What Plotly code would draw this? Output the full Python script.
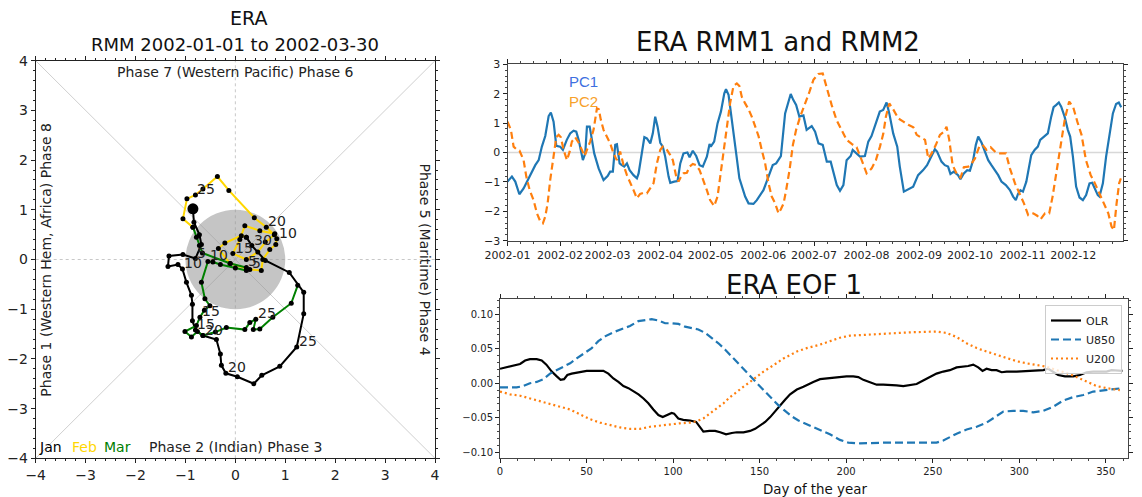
import calendar
import plotly.graph_objects as go

W, H = 1142, 497
FONT = "DejaVu Sans"

# ---------------- Phase diagram data (RMM1, RMM2), one point per day ----------------
jan_rmm1 = [-0.85, -0.83, -0.72, -0.68, -0.80, -1.05, -1.33, -1.35, -1.15, -1.06, -0.98,
            -0.88, -0.86, -0.86, -0.80, -0.65, -0.38, -0.30, -0.28, -0.19, 0.04, 0.37,
            0.53, 0.89, 1.23, 1.37, 1.37, 1.08, 0.60, 0.33, 0.22]
jan_rmm2 = [1.02, 0.75, 0.50, 0.30, 0.02, 0.10, 0.07, -0.14, -0.10, -0.19, -0.46,
            -0.72, -0.90, -1.23, -1.42, -1.53, -1.61, -1.90, -2.13, -2.29, -2.36, -2.50,
            -2.33, -2.15, -1.76, -1.09, -0.66, -0.26, -0.02, 0.28, 0.45]
feb_rmm1 = [0.12, -0.21, -0.34, -0.11, 0.29, 0.52, 0.55, 0.69, 0.81, 0.83, 0.79, 0.49,
            0.19, 0.09, -0.05, 0.22, 0.45, 0.60, 0.78, 0.62, 0.38, -0.13, -0.36, -0.65,
            -0.80, -0.97, -1.05, -0.85]
feb_rmm2 = [0.48, 0.33, 0.22, -0.08, -0.20, -0.22, 0.00, 0.20, 0.30, 0.42, 0.52, 0.58,
            0.68, 0.40, 0.12, 0.00, 0.15, 0.35, 0.50, 0.65, 0.84, 1.39, 1.67, 1.42,
            1.30, 1.22, 0.82, 0.65]
mar_rmm1 = [-0.78, -0.72, -0.66, -0.10, 0.22, 0.22, 0.00, -0.30, -0.45, -0.55, -0.68,
            -0.61, -0.51, -0.62, -0.71, -0.78, -1.01, -0.88, -0.76, -0.65, -0.40, -0.18,
            0.19, 0.29, 0.41, 0.36, 0.49, 0.75, 1.12, 1.25]
mar_rmm2 = [0.45, 0.28, 0.13, -0.08, -0.16, -0.22, -0.17, -0.10, -0.05, -0.04, -0.46,
            -0.79, -0.93, -1.02, -1.16, -1.33, -1.45, -1.56, -1.45, -1.53, -1.46, -1.37,
            -1.41, -1.27, -1.20, -1.41, -1.40, -1.16, -0.88, -0.52]
month_names = ["Jan", "Feb", "Mar"]
month_colors = ["black", "#FFD700", "#008000"]
label_days = [5, 10, 15, 20, 25, 30]

# ---------------- RMM time series (day of 2002, value) ----------------
pc1_day = [0, 2.6, 4.6, 7, 9.5, 12.5, 14.4, 16.4, 18.4, 20.3, 22.3, 24.3, 25.6, 27.2, 28.8,
           31.1, 32.7, 35, 37, 39, 40.6, 42, 44.5, 45.9, 46.9, 48.5, 49.2, 51.2, 53.8, 56.7,
           59.1, 60.6, 62.2, 63.6, 64.6, 66.2, 67.5, 68.9, 70.5, 72.1, 74.4, 76.4, 77.4, 78.8,
           80.8, 82.3, 84.3, 85.8, 87.2, 88.6, 90.2, 91.7, 93.1, 95.1, 96.1, 98.4, 100.4, 102,
           103.9, 106.2, 107.5, 109.4, 111.4, 113.4, 115.3, 117.7, 119.3, 120, 122, 124, 126,
           128, 129, 130.5, 131.8, 133.4, 135, 136.9, 138.3, 140.3, 142.3, 145.2, 147.2,
           149.5, 151.1, 153.1, 154.7, 156.6, 158.6, 160, 161.4, 163.9, 165.9, 167.2, 168.7,
           170.4, 172.3, 174.7, 176.6, 179.6, 181.6, 183.6, 186.1, 188.5, 190.8, 192.4,
           194.4, 196.3, 198.3, 200.2, 202.6, 203.8, 206.1, 208.1, 211, 213, 214.9, 217.9,
           219.8, 221.8, 223.8, 225.4, 227.7, 230.1, 231.6, 234, 236.5, 239.5, 242.4, 245.4,
           247.7, 250.3, 252.3, 253.6, 256.2, 258.2, 260.1, 261.5, 263.5, 266, 267.4, 269.4,
           271.4, 273, 274.9, 276.5, 277.9, 279.9, 281.8, 283.8, 285.7, 287.7, 289.7, 291.6,
           294.2, 296.6, 298.5, 300.1, 301.4, 302.8, 304.3, 306.3, 309.2, 311.2, 313.1,
           314.5, 316.1, 317.7, 319, 321, 322.4, 324, 325.5, 326.9, 328.9, 330.8, 332.2,
           333.8, 335.7, 337.7, 339.7, 341.6, 343.6, 345.2, 346.6, 348.5, 349.5, 351.5,
           353.4, 355.4, 357.4, 359.3, 360.9, 362.3]
pc1_val = [-0.99, -0.82, -0.99, -1.42, -1.22, -0.88, -0.69, -0.43, -0.26, 0.2, 0.56, 1.24,
           1.36, 1.05, 0.23, 0.2, 0.09, 0.43, 0.65, 0.74, 0.71, 0.43, -0.26, -0.03, 0.88,
           0.88, 0.65, -0.03, -0.54, -0.94, -0.8, -0.65, -0.65, 0.26, 0.28, -0.37, -0.43,
           -0.48, -0.37, -0.6, -0.77, -0.88, -0.71, -0.14, 0.52, 0.48, 0.31, 0.65, 1.22,
           0.88, 0.33, 0.2, -0.14, -0.82, -1.03, -0.99, -0.97, -0.37, -0.03, 0.0, -0.16,
           0.06, -0.12, -0.43, -0.48, -0.14, 0.29, 0.2, 0.37, 0.99, 1.39, 2.01, 2.15, 1.96,
           1.33, 0.71, -0.03, -0.88, -1.16, -1.5, -1.73, -1.75, -1.62, -1.39, -1.28, -0.97,
           -0.69, -0.43, -0.37, -0.23, -0.12, 1.33, 1.79, 1.99, 1.79, 1.62, 1.22, 1.26, 0.77,
           0.9, 0.71, 0.31, 0.26, -0.31, -0.31, -0.71, -1.11, -1.3, -1.11, -0.26, -0.12,
           0.09, -0.05, -0.14, -0.12, 0.37, 0.56, 1.11, 1.39, 1.45, 1.7, 1.33, 0.65, 0.2,
           -0.48, -1.33, -1.25, -1.16, -0.77, -0.6, -0.43, -0.14, 0.11, 0.03, -0.31, -0.43,
           -0.48, -0.73, -0.65, -0.77, -0.91, -0.71, -0.6, -0.62, -0.26, 0.26, 0.54, 0.33,
           0.03, -0.26, -0.43, -0.6, -0.77, -0.99, -1.11, -1.28, -1.5, -1.62, -1.41, -1.28,
           -1.33, -0.99, -0.09, 0.09, 0.2, 0.43, 0.52, 0.6, 0.65, 1.22, 1.54, 1.62, 1.7,
           1.56, 1.22, 0.77, 0.54, -0.14, -1.16, -1.53, -1.62, -1.45, -1.05, -1.03, -1.19,
           -1.45, -1.5, -1.05, -0.14, 0.65, 1.33, 1.65, 1.7, 1.54]
pc2_day = [0, 2, 3.6, 5.6, 7.1, 9.5, 11.1, 13.1, 15.4, 17.4, 19.4, 20.9, 22.3, 23.7, 25.2,
           27.2, 28.8, 30.2, 31.5, 33.1, 35.1, 36.7, 38, 40, 42, 43.9, 45.5, 46.9, 48.8,
           50.8, 52.8, 53.9, 55.1, 56.7, 58.7, 60.6, 62.6, 64.5, 66.5, 68.5, 70.5, 72.4,
           74.4, 76.4, 78.3, 80.3, 82.3, 84.2, 86.2, 88.2, 90.2, 91.7, 94.1, 96.1, 97.6,
           99.6, 101, 102.4, 103.9, 105.9, 107.5, 109.4, 111.4, 113.4, 115.3, 117.7, 119.6,
           122, 124, 125.5, 127.5, 129.5, 131.4, 133.4, 135.4, 136.9, 138.3, 140.3, 142.3,
           144.2, 146.2, 148.2, 150.1, 152.1, 154.1, 156, 158, 160, 161.4, 163, 164.5, 166.5,
           168.5, 170.4, 172.8, 174.7, 176.7, 178.3, 180.6, 183.5, 186.1, 188.4, 191.4,
           194.3, 197.3, 200.2, 203.2, 206.1, 209.1, 212, 215, 217.5, 219.9, 221.9, 223.4,
           225.4, 227.7, 230.7, 233.7, 236.6, 239.6, 241.6, 243.9, 246.5, 248.4, 250.4,
           252.9, 255.3, 257.7, 259.2, 260.8, 262.8, 265.1, 267.5, 269.4, 272, 274, 276,
           278.5, 280.5, 282.8, 285.2, 288.3, 290.7, 294.3, 296.6, 299.6, 302.5, 304.9,
           307.4, 310.4, 312.7, 314.7, 317.3, 319.8, 321.8, 324.2, 326.5, 329.1, 331.6,
           334, 336.4, 338.9, 341.5, 344.3, 346.8, 349.4, 352.1, 354.7, 356.6, 358, 359.6,
           361.1, 362.1]
pc2_val = [1.05, 0.77, 0.2, 0.09, 0.06, -0.26, -0.82, -1.28, -1.62, -2.07, -2.35, -2.41,
           -2.18, -1.73, -0.94, -0.14, 0.52, 0.6, 0.52, 0.09, -0.26, 0.03, 0.37, 0.52, 0.33,
           0.09, -0.12, 0.09, 0.37, 0.77, 1.5, 1.47, 1.11, 0.77, 0.52, 0.31, -0.03, -0.26,
           0.03, -0.43, -0.77, -1.05, -1.28, -1.56, -1.41, -1.37, -1.39, -1.22, -1.05, -0.37,
           0.09, 0.2, 0.09, -0.09, -0.26, -0.82, -0.99, -0.82, -0.71, -0.69, -0.48, -0.39,
           -0.43, -0.6, -0.88, -1.28, -1.62, -1.82, -1.5, -0.88, 0.09, 0.88, 1.67, 2.26,
           2.35, 2.26, 1.9, 1.67, 1.47, 1.22, 0.9, 0.56, 0.09, -0.37, -1.05, -1.5, -1.73,
           -2.07, -1.93, -1.73, -1.28, -0.6, 0.26, 0.77, 1.22, 1.5, 1.79, 2.07, 2.47, 2.67,
           2.69, 2.18, 1.61, 1.1, 0.77, 0.43, 0.29, 0.18, -0.26, -0.71, -0.54, -0.26, 0.2,
           0.65, 1.22, 1.67, 1.47, 1.16, 1.05, 0.94, 0.86, 0.6, 0.52, 0.43, -0.2, -0.03,
           0.26, 0.6, 0.71, 0.88, 0.43, -0.43, -0.71, -0.85, -0.5, -0.48, -0.37, -0.2, 0.2,
           0.26, 0.09, 0.18, 0.0, -0.03, -0.03, -0.54, -1.05, -1.39, -1.73, -2.13, -2.07,
           -2.15, -2.27, -2.07, -2.07, -1.5, -0.6, 0.31, 1.16, 1.73, 1.54, 1.05, 0.6, -0.26,
           -0.77, -1.05, -1.39, -1.73, -2.07, -2.52, -2.64, -1.73, -1.05, -0.88]
month_tick_labels = ["2002-%02d" % m for m in range(1, 13)]

# ---------------- EOF 1 structure (day of year, value) ----------------
olr_day = [0, 3.9, 7.7, 11.6, 14.5, 17.3, 21.2, 24.1, 26.8, 29.9, 32.8, 35, 37, 38.9, 41.4,
           44.3, 47.2, 50.1, 53.9, 57.8, 59.7, 62.6, 65.5, 68.4, 71.3, 74.2, 77.1, 80, 82.9,
           85.7, 88.6, 91.5, 94, 96.3, 99.2, 100.6, 103, 105.9, 109.8, 113.3, 115.6, 117.5,
           121, 124.3, 127.2, 130.6, 133.9, 136.8, 140.7, 144.5, 147.4, 150.3, 153.2, 156.1,
           159, 161.8, 164.7, 167.6, 171.5, 175.3, 179.2, 181, 184.9, 188.7, 192.5, 196.4,
           200.2, 204.1, 207, 209.9, 213.7, 217.6, 221.4, 225.3, 229.1, 233, 236.8, 240.7,
           244.5, 248.4, 252.2, 256.1, 259.9, 263.8, 267.6, 270.5, 273.4, 276.3, 278.8,
           281.1, 284, 286.9, 289.8, 292.7, 298.5, 304.2, 310, 313.9, 316.7, 319.6, 322.5,
           326.4, 331.2, 335, 338.9, 342.7, 346.6, 350.4, 353.3, 356.2, 359.6]
olr_val = [0.021, 0.023, 0.026, 0.028, 0.033, 0.035, 0.035, 0.033, 0.027, 0.017, 0.010,
           0.005, 0.006, 0.012, 0.014, 0.015, 0.016, 0.018, 0.018, 0.018, 0.018, 0.014,
           0.007, 0.002, -0.004, -0.007, -0.011, -0.016, -0.022, -0.029, -0.038, -0.046,
           -0.049, -0.046, -0.043, -0.044, -0.051, -0.053, -0.054, -0.056, -0.063, -0.070,
           -0.069, -0.069, -0.071, -0.074, -0.072, -0.071, -0.071, -0.069, -0.066, -0.061,
           -0.056, -0.049, -0.040, -0.032, -0.024, -0.016, -0.009, -0.005, 0.0, 0.002,
           0.006, 0.007, 0.007, 0.009, 0.010, 0.010, 0.009, 0.005, 0.001, -0.002, -0.002,
           -0.002, -0.003, -0.004, -0.003, -0.001, 0.004, 0.009, 0.014, 0.017, 0.019, 0.023,
           0.024, 0.025, 0.027, 0.023, 0.018, 0.021, 0.019, 0.019, 0.016, 0.017, 0.017,
           0.018, 0.018, 0.019, 0.021, 0.017, 0.012, 0.010, 0.010, 0.012, 0.016, 0.017,
           0.017, 0.017, 0.019, 0.019, 0.018]
u850_day = [0, 3.9, 9.6, 13.5, 17.3, 21.2, 25, 28.9, 32.7, 36.6, 40.5, 44.3, 49.1, 53, 56.8,
            60.7, 65.5, 70.3, 75.1, 79.9, 83.8, 87.6, 91.5, 95.4, 99.2, 103.1, 106.9, 110.8,
            114.6, 118.5, 122.3, 126.2, 130, 133.9, 137.7, 141.6, 145.4, 149.3, 153.1, 157,
            160.9, 164.7, 168.6, 172.4, 177.2, 179.1, 184.9, 190.6, 196.4, 201.2, 207.9,
            215.6, 223.3, 231, 238.7, 246.4, 252.2, 256.1, 259.9, 263.8, 269.6, 275.4, 281.1,
            285.9, 290.8, 296.5, 302.3, 308.1, 313.9, 319.6, 325.4, 331.2, 337, 342.7, 348.5,
            354.3, 359.6]
u850_val = [-0.006, -0.006, -0.006, -0.004, 0.0, 0.002, 0.006, 0.014, 0.019, 0.023, 0.029,
            0.036, 0.044, 0.051, 0.061, 0.068, 0.074, 0.079, 0.083, 0.090, 0.092, 0.093,
            0.091, 0.087, 0.087, 0.086, 0.082, 0.080, 0.078, 0.073, 0.066, 0.058, 0.049,
            0.039, 0.029, 0.019, 0.009, -0.002, -0.012, -0.022, -0.032, -0.040, -0.048,
            -0.054, -0.059, -0.061, -0.067, -0.074, -0.082, -0.086, -0.087, -0.086, -0.086,
            -0.086, -0.086, -0.086, -0.086, -0.083, -0.078, -0.073, -0.067, -0.063, -0.057,
            -0.049, -0.041, -0.040, -0.040, -0.042, -0.040, -0.034, -0.025, -0.020, -0.017,
            -0.012, -0.010, -0.008, -0.007]
u200_day = [0, 5.8, 11.6, 17.3, 23.1, 28.9, 34.7, 40.5, 46.2, 52, 57.8, 63.6, 69.3, 75.1,
            80.9, 86.7, 92.4, 98.2, 104, 109.8, 113.7, 117.5, 121.3, 125.2, 129.1, 132.9,
            136.8, 140.7, 144.5, 148.4, 152.2, 156.1, 160, 163.8, 167.7, 171.5, 177.2, 184.9,
            190.6, 196.4, 202.2, 207.9, 215.6, 223.3, 231, 238.7, 246.4, 252.2, 258, 263.8,
            269.6, 275.4, 281.1, 286.9, 292.7, 298.5, 304.2, 310, 315.8, 321.6, 327.3, 333.1,
            338.9, 344.7, 350.4, 358.1]
u200_val = [-0.012, -0.016, -0.018, -0.022, -0.026, -0.030, -0.034, -0.038, -0.045, -0.052,
            -0.057, -0.061, -0.064, -0.066, -0.066, -0.063, -0.061, -0.060, -0.058, -0.057,
            -0.055, -0.051, -0.044, -0.036, -0.029, -0.020, -0.012, -0.005, 0.002, 0.010,
            0.017, 0.023, 0.030, 0.036, 0.041, 0.046, 0.051, 0.056, 0.061, 0.066, 0.069,
            0.070, 0.071, 0.072, 0.073, 0.074, 0.075, 0.075, 0.073, 0.067, 0.058, 0.051,
            0.046, 0.041, 0.036, 0.032, 0.029, 0.027, 0.024, 0.019, 0.015, 0.009, 0.002,
            -0.004, -0.007, -0.010]
eof_names = ["OLR", "U850", "U200"]

# ---------------- helpers ----------------
def px_x(p):
    return p / W

def px_y(p):
    return 1 - p / H

fig = go.Figure()

# ---------- Phase diagram ----------
months = [(jan_rmm1, jan_rmm2), (feb_rmm1, feb_rmm2), (mar_rmm1, mar_rmm2)]
prev = None
annotations = []
for (r1, r2), col in zip(months, month_colors):
    xs = list(r1)
    ys = list(r2)
    if prev is not None:
        xs = [prev[0]] + xs
        ys = [prev[1]] + ys
    fig.add_trace(go.Scatter(x=xs, y=ys, mode="lines+markers", xaxis="x", yaxis="y",
                             line=dict(color=col, width=2),
                             marker=dict(color="black", size=5),
                             showlegend=False, hoverinfo="skip"))
    for d in label_days:
        if d < len(r1):
            annotations.append(dict(x=r1[d - 1], y=r2[d - 1], xref="x", yref="y",
                                    text=str(d), showarrow=False, xanchor="left",
                                    yanchor="bottom", yshift=-4,
                                    font=dict(family=FONT, size=14, color="#222")))
    prev = (r1[-1], r2[-1])
# start marker
fig.add_trace(go.Scatter(x=[jan_rmm1[0]], y=[jan_rmm2[0]], mode="markers", xaxis="x",
                         yaxis="y", marker=dict(color="black", size=11),
                         showlegend=False, hoverinfo="skip"))

shapes = []
gray = "rgba(150,150,150,0.55)"
shapes.append(dict(type="line", xref="x", yref="y", x0=-4, y0=-4, x1=4, y1=4,
                   line=dict(color="#cfcfcf", width=1), layer="below"))
shapes.append(dict(type="line", xref="x", yref="y", x0=-4, y0=4, x1=4, y1=-4,
                   line=dict(color="#cfcfcf", width=1), layer="below"))
shapes.append(dict(type="line", xref="x", yref="y", x0=0, y0=-4, x1=0, y1=4,
                   line=dict(color="#c8c8c8", width=1, dash="dot"), layer="below"))
shapes.append(dict(type="line", xref="x", yref="y", x0=-4, y0=0, x1=4, y1=0,
                   line=dict(color="#c8c8c8", width=1, dash="dot"), layer="below"))
shapes.append(dict(type="circle", xref="x", yref="y", x0=-1, y0=-1, x1=1, y1=1,
                   fillcolor=gray, line=dict(color="rgba(0,0,0,0)", width=0), layer="below"))

txt = dict(family=FONT, size=14, color="#222")
annotations += [
    dict(x=0, y=3.77, xref="x", yref="y", text="Phase 7 (Western Pacific) Phase 6",
         showarrow=False, font=txt),
    dict(x=0, y=-3.78, xref="x", yref="y", text="Phase 2 (Indian) Phase 3",
         showarrow=False, font=txt),
    dict(x=-3.81, y=0, xref="x", yref="y", text="Phase 1 (Western Hem, Africa) Phase 8",
         showarrow=False, textangle=-90, font=txt),
    dict(x=3.8, y=0, xref="x", yref="y", text="Phase 5 (Maritime) Phase 4",
         showarrow=False, textangle=90, font=txt),
]
for name, col, xc in zip(month_names, month_colors, [-3.7, -3.02, -2.37]):
    annotations.append(dict(x=xc, y=-3.78, xref="x", yref="y", text=name, showarrow=False,
                            font=dict(family=FONT, size=14, color=col)))
annotations += [
    dict(x=px_x(248), y=px_y(18), xref="paper", yref="paper", text="ERA", showarrow=False,
         xanchor="center", yanchor="middle", font=dict(family=FONT, size=19, color="#111")),
    dict(x=px_x(235), y=px_y(44), xref="paper", yref="paper",
         text="RMM 2002-01-01 to 2002-03-30", showarrow=False, xanchor="center",
         yanchor="middle", font=dict(family=FONT, size=18, color="#111")),
]

# ---------- RMM time series ----------
fig.add_trace(go.Scatter(x=pc1_day, y=pc1_val, mode="lines", xaxis="x2", yaxis="y2",
                         line=dict(color="#1f77b4", width=2.2), showlegend=False,
                         hoverinfo="skip"))
fig.add_trace(go.Scatter(x=pc2_day, y=pc2_val, mode="lines", xaxis="x2", yaxis="y2",
                         line=dict(color="#ff7f0e", width=2.2, dash="7px,4px"),
                         showlegend=False, hoverinfo="skip"))
shapes.append(dict(type="line", xref="x2 domain", yref="y2", x0=0, x1=1, y0=0, y1=0,
                   line=dict(color="#d8d8d8", width=1.5), layer="below"))
annotations += [
    dict(x=px_x(583), y=px_y(81), xref="paper", yref="paper", text="PC1", showarrow=False,
         xanchor="center", yanchor="middle",
         font=dict(family="Liberation Sans", size=15, color="#3d6fe0")),
    dict(x=px_x(583), y=px_y(101), xref="paper", yref="paper", text="PC2", showarrow=False,
         xanchor="center", yanchor="middle",
         font=dict(family="Liberation Sans", size=15, color="#f7a12a")),
    dict(x=px_x(778), y=px_y(42), xref="paper", yref="paper", text="ERA RMM1 and RMM2",
         showarrow=False, xanchor="center", yanchor="middle",
         font=dict(family=FONT, size=26, color="#111")),
]
month_starts = []
acc = 0
for m in range(1, 13):
    month_starts.append(acc)
    acc += calendar.monthrange(2002, m)[1]
month_lens = [calendar.monthrange(2002, m)[1] for m in range(1, 13)]
minor_vals = [s + k * l / 4 for s, l in zip(month_starts, month_lens) for k in (1, 2, 3)]

# ---------- EOF ----------
fig.add_trace(go.Scatter(x=olr_day, y=olr_val, mode="lines", xaxis="x3", yaxis="y3",
                         name=eof_names[0], line=dict(color="black", width=2.2),
                         hoverinfo="skip"))
fig.add_trace(go.Scatter(x=u850_day, y=u850_val, mode="lines", xaxis="x3", yaxis="y3",
                         name=eof_names[1],
                         line=dict(color="#1f77b4", width=2.2, dash="8px,4px"),
                         hoverinfo="skip"))
fig.add_trace(go.Scatter(x=u200_day, y=u200_val, mode="lines", xaxis="x3", yaxis="y3",
                         name=eof_names[2],
                         line=dict(color="#ff7f0e", width=2.2, dash="2px,3px"),
                         hoverinfo="skip"))
annotations += [
    dict(x=px_x(794), y=px_y(285), xref="paper", yref="paper", text="ERA EOF 1",
         showarrow=False, xanchor="center", yanchor="middle",
         font=dict(family=FONT, size=26, color="#111")),
    dict(x=px_x(815), y=px_y(489), xref="paper", yref="paper", text="Day of the year",
         showarrow=False, xanchor="center", yanchor="middle",
         font=dict(family=FONT, size=13.4, color="#111")),
]

tickfont = dict(family=FONT, size=14, color="#222")
small = dict(family=FONT, size=11, color="#222")
smaller = dict(family=FONT, size=10, color="#222")

def axstyle(**kw):
    base = dict(showline=True, linecolor="#222", linewidth=1, mirror="allticks",
                ticks="outside", ticklen=4, tickcolor="#222", showgrid=False,
                zeroline=False, automargin=False, tickangle=0)
    base.update(kw)
    return base

layout = dict(
    width=W, height=H, margin=dict(l=0, r=0, t=0, b=0, pad=0, autoexpand=False),
    paper_bgcolor="white", plot_bgcolor="white",
    xaxis=axstyle(domain=[px_x(35.7), px_x(435)], range=[-4, 4], anchor="y",
                  tickvals=[-4, -3, -2, -1, 0, 1, 2, 3, 4], tickfont=tickfont,
                  minor=dict(dtick=0.2, tick0=0, ticks="outside", ticklen=2,
                             tickcolor="#222", showgrid=False)),
    yaxis=axstyle(domain=[px_y(458.3), px_y(60.7)], range=[-4, 4], anchor="x",
                  tickvals=[-4, -3, -2, -1, 0, 1, 2, 3, 4], tickfont=tickfont,
                  minor=dict(dtick=0.2, tick0=0, ticks="outside", ticklen=2,
                             tickcolor="#222", showgrid=False)),
    xaxis2=axstyle(domain=[px_x(507.5), px_x(1122.7)], range=[0, 363.2], anchor="y2",
                   tickvals=month_starts, ticktext=month_tick_labels, tickfont=small,
                   linecolor="#444",
                   minor=dict(tickvals=minor_vals, ticks="outside", ticklen=2,
                              tickcolor="#444", showgrid=False)),
    yaxis2=axstyle(domain=[px_y(240.7), px_y(64.3)], range=[-3, 3], anchor="x2",
                   tickvals=[-3, -2, -1, 0, 1, 2, 3], tickfont=small, linecolor="#444",
                   minor=dict(dtick=0.2, tick0=0, ticks="outside", ticklen=2,
                              tickcolor="#444", showgrid=False)),
    xaxis3=axstyle(domain=[px_x(500), px_x(1128.3)], range=[0, 363], anchor="y3",
                   tickvals=[0, 50, 100, 150, 200, 250, 300, 350], tickfont=smaller,
                   linecolor="#444",
                   minor=dict(dtick=10, tick0=0, ticks="outside", ticklen=2,
                              tickcolor="#444", showgrid=False)),
    yaxis3=axstyle(domain=[px_y(458.3), px_y(299.3)], range=[-0.1087, 0.1217],
                   anchor="x3", tickvals=[-0.1, -0.05, 0, 0.05, 0.1], tickformat=".2f",
                   tickfont=smaller, linecolor="#444",
                   minor=dict(dtick=0.01, tick0=0, ticks="outside", ticklen=2,
                              tickcolor="#444", showgrid=False)),
    legend=dict(x=px_x(1122), y=px_y(305), xanchor="right", yanchor="top",
                bgcolor="rgba(255,255,255,0.8)", bordercolor="#cccccc", borderwidth=1,
                font=dict(family=FONT, size=11, color="#222"), tracegroupgap=0),
    shapes=shapes,
    annotations=annotations,
    showlegend=True,
)
fig.update_layout(**layout)
fig.write_html("out.html", config={"displayModeBar": False},
               post_script="document.body.style.margin='0px';"
                           "document.body.style.overflow='hidden';")
